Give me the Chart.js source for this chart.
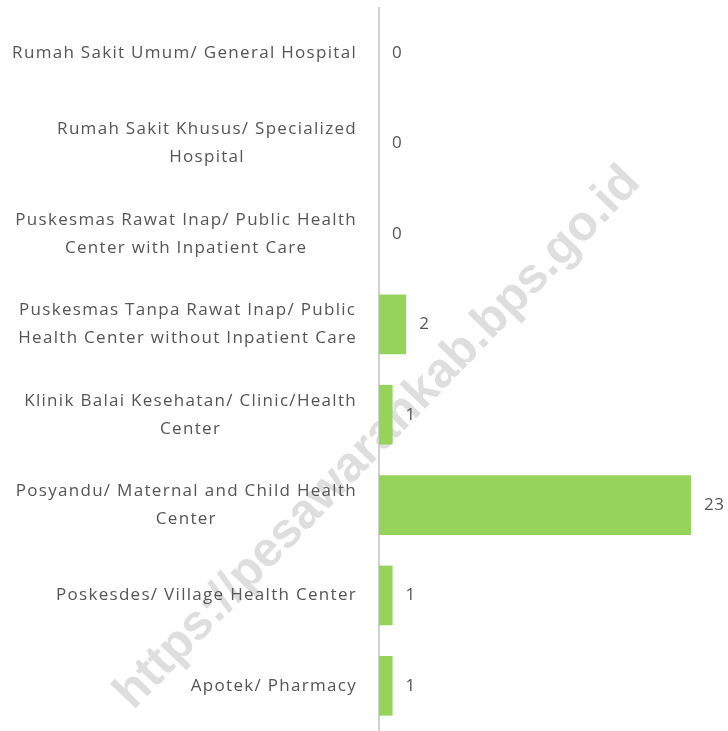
<!DOCTYPE html>
<html>
<head>
<meta charset="utf-8">
<script src="https://cdn.jsdelivr.net/npm/chart.js@4.4.0/dist/chart.umd.min.js"></script>
<style>
  html, body { margin: 0; padding: 0; background: #fff; }
  #wrap { width: 728px; height: 731px; position: relative; }
</style>
</head>
<body>
<div id="wrap"><canvas id="fasilitasChart"></canvas></div>
<script>
// --- Data ---
const categories = [
  ['Rumah Sakit Umum/ General Hospital'],
  ['Rumah Sakit Khusus/ Specialized', 'Hospital'],
  ['Puskesmas Rawat Inap/ Public Health', 'Center with Inpatient Care'],
  ['Puskesmas Tanpa Rawat Inap/ Public', 'Health Center without Inpatient Care'],
  ['Klinik Balai Kesehatan/ Clinic/Health', 'Center'],
  ['Posyandu/ Maternal and Child Health', 'Center'],
  ['Poskesdes/ Village Health Center'],
  ['Apotek/ Pharmacy']
];
const jumlah = [0, 0, 0, 2, 1, 23, 1, 1];
const watermarkText = 'https://pesawarankab.bps.go.id';

const textColor = '#555555';
const fontFamily = '"Open Sans", "Noto Sans", sans-serif';

// Watermark di belakang grafik
const watermarkPlugin = {
  id: 'watermark',
  beforeDraw(chart) {
    const ctx = chart.ctx;
    ctx.save();
    ctx.translate(378, 438);
    ctx.rotate(-46 * Math.PI / 180);
    ctx.font = 'bold 49px "Liberation Sans", Arial, sans-serif';
    ctx.fillStyle = '#dedede';
    ctx.textAlign = 'center';
    ctx.textBaseline = 'middle';
    ctx.fillText(watermarkText, 0, 0);
    ctx.restore();
  }
};

// Label kategori: blok rata kanan, baris-barisnya rata tengah
const categoryLabelPlugin = {
  id: 'categoryLabels',
  afterDraw(chart) {
    const ctx = chart.ctx;
    const yScale = chart.scales.y;
    const rightEdge = yScale.right - 22;
    const lineH = 28;
    ctx.save();
    ctx.letterSpacing = '1.3px';
    ctx.font = '17px ' + fontFamily;
    ctx.fillStyle = textColor;
    ctx.textAlign = 'center';
    ctx.textBaseline = 'middle';
    categories.forEach((lines, i) => {
      const yc = yScale.getPixelForTick(i);
      const maxW = Math.max(...lines.map(l => ctx.measureText(l).width));
      const xc = rightEdge - maxW / 2;
      const y0 = yc - (lines.length - 1) * lineH / 2;
      lines.forEach((l, j) => ctx.fillText(l, xc, y0 + j * lineH));
    });
    ctx.restore();
  }
};

// Label nilai di ujung batang
const valueLabelPlugin = {
  id: 'valueLabels',
  afterDatasetsDraw(chart) {
    const ctx = chart.ctx;
    const meta = chart.getDatasetMeta(0);
    ctx.save();
    ctx.letterSpacing = '0.5px';
    ctx.font = '17px ' + fontFamily;
    ctx.fillStyle = textColor;
    ctx.textAlign = 'left';
    ctx.textBaseline = 'middle';
    meta.data.forEach((bar, i) => {
      ctx.fillText(String(jumlah[i]), bar.x + 13, bar.y);
    });
    ctx.restore();
  }
};

const ctx = document.getElementById('fasilitasChart').getContext('2d');
new Chart(ctx, {
  type: 'bar',
  data: {
    labels: categories,
    datasets: [{
      data: jumlah,
      backgroundColor: '#96d35a',
      borderWidth: 0,
      barPercentage: 0.66,
      categoryPercentage: 1
    }]
  },
  options: {
    indexAxis: 'y',
    responsive: true,
    maintainAspectRatio: false,
    animation: false,
    layout: { padding: { top: 8, bottom: -6, left: 0, right: 0 } },
    scales: {
      x: {
        display: false,
        min: 0,
        max: 25.73
      },
      y: {
        afterFit(scale) {
          scale.width = 379;
          scale.paddingTop = 0;
          scale.paddingBottom = 0;
        },
        border: { display: true, color: '#d0d0d0', width: 2 },
        grid: { display: false, drawTicks: false },
        ticks: { display: false }
      }
    },
    plugins: {
      legend: { display: false },
      tooltip: { enabled: false }
    }
  },
  plugins: [watermarkPlugin, categoryLabelPlugin, valueLabelPlugin]
});
</script>
</body>
</html>
